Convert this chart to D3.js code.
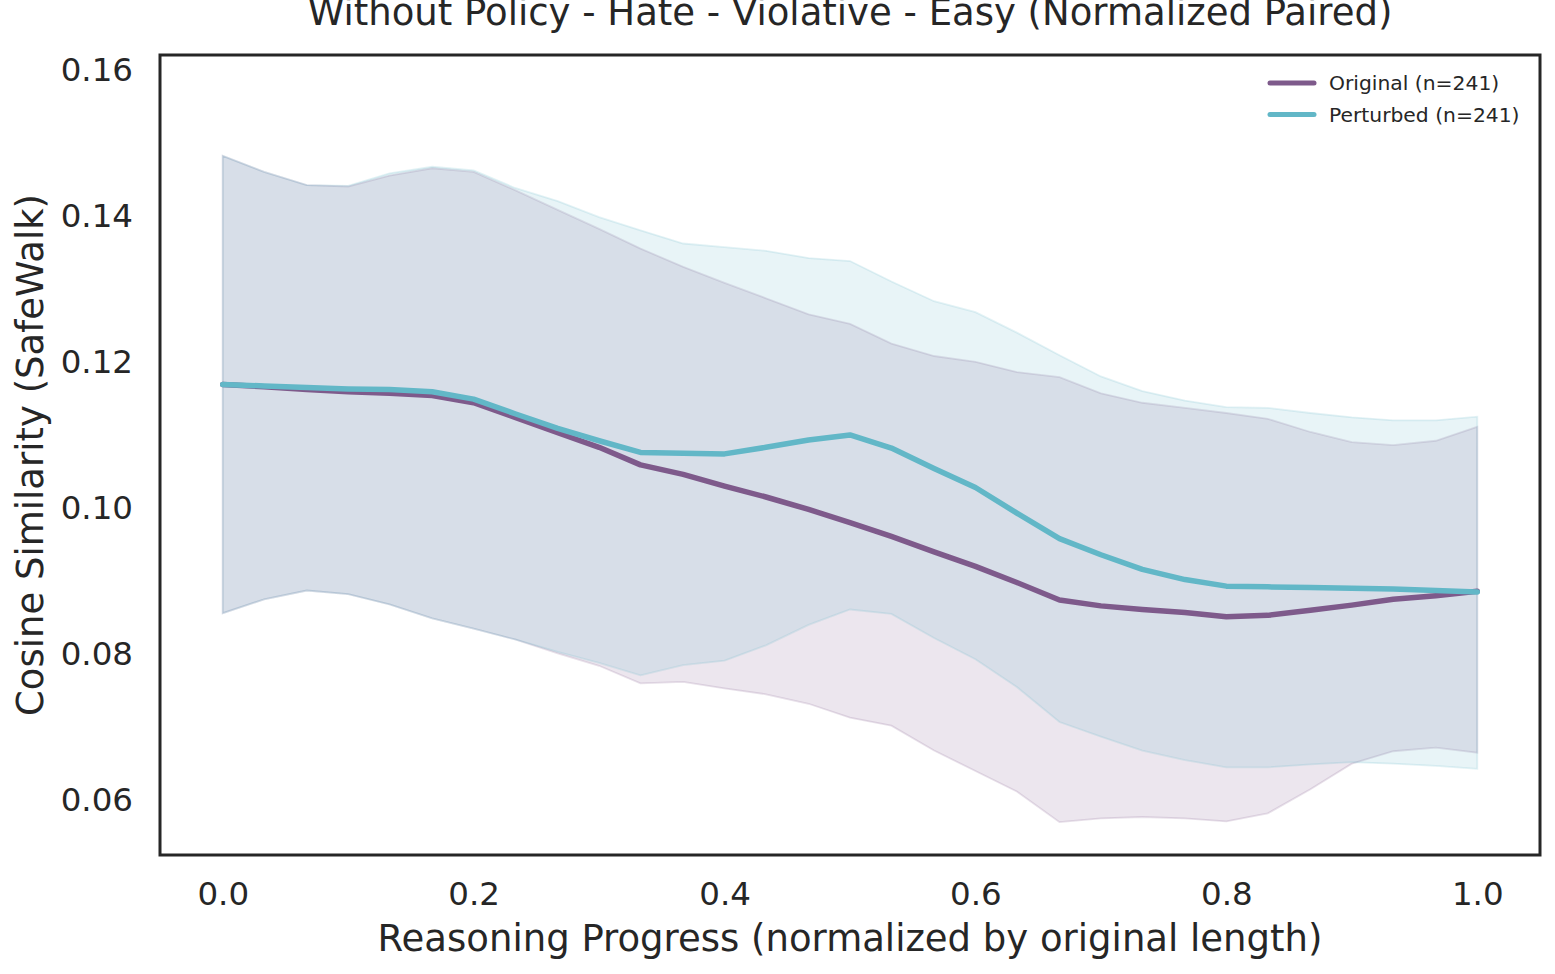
<!DOCTYPE html>
<html>
<head>
<meta charset="UTF-8">
<script src="https://d3js.org/d3.v7.min.js"></script>
<style>
  body { margin: 0; background: #fff; }
  svg text { font-family: "DejaVu Sans", sans-serif; fill: #262626; }
</style>
</head>
<body>
<svg id="grafico"></svg>
<script>
  // progress grid (fraction of original length)
  const progress = [0, 0.033, 0.067, 0.1, 0.133, 0.167, 0.2, 0.233, 0.267, 0.3,
    0.333, 0.367, 0.4, 0.433, 0.467, 0.5, 0.533, 0.567, 0.6, 0.633,
    0.667, 0.7, 0.733, 0.767, 0.8, 0.833, 0.867, 0.9, 0.933, 0.967, 1.0];

  const origMean = [0.1169, 0.1166, 0.1162, 0.1159, 0.1157, 0.1154, 0.1144, 0.1124, 0.1103, 0.1083,
    0.1059, 0.1046, 0.1030, 0.1015, 0.0998, 0.0980, 0.0961, 0.0940, 0.0920, 0.0898,
    0.0874, 0.0866, 0.0861, 0.0857, 0.0851, 0.0853, 0.0860, 0.0867, 0.0875, 0.0880, 0.0886];
  const origLo = [0.0856, 0.0875, 0.0887, 0.0882, 0.0868, 0.0849, 0.0835, 0.0820, 0.0801, 0.0784,
    0.0760, 0.0762, 0.0753, 0.0745, 0.0732, 0.0713, 0.0702, 0.0668, 0.0640, 0.0612,
    0.0570, 0.0575, 0.0577, 0.0575, 0.0571, 0.0582, 0.0615, 0.0650, 0.0667, 0.0672, 0.0665];
  const origHi = [0.1482, 0.1460, 0.1442, 0.1440, 0.1455, 0.1465, 0.1460, 0.1435, 0.1408, 0.1382,
    0.1355, 0.1330, 0.1308, 0.1287, 0.1265, 0.1252, 0.1225, 0.1208, 0.1200, 0.1186,
    0.1179, 0.1157, 0.1144, 0.1137, 0.1130, 0.1122, 0.1104, 0.1090, 0.1086, 0.1092, 0.1111];

  const pertMean = [0.1169, 0.1167, 0.1165, 0.1163, 0.1162, 0.1159, 0.1149, 0.1129, 0.1109, 0.1092,
    0.1076, 0.1075, 0.1074, 0.1083, 0.1093, 0.1100, 0.1082, 0.1054, 0.1028, 0.0993,
    0.0958, 0.0936, 0.0916, 0.0902, 0.0893, 0.0892, 0.0891, 0.0890, 0.0889, 0.0887, 0.0885];
  const pertLo = [0.0856, 0.0875, 0.0887, 0.0882, 0.0868, 0.0849, 0.0835, 0.0820, 0.0803, 0.0788,
    0.0771, 0.0785, 0.0791, 0.0812, 0.0840, 0.0861, 0.0855, 0.0822, 0.0793, 0.0755,
    0.0707, 0.0687, 0.0668, 0.0655, 0.0645, 0.0645, 0.0649, 0.0652, 0.0650, 0.0647, 0.0643];
  const pertHi = [0.1482, 0.1460, 0.1442, 0.1441, 0.1458, 0.1467, 0.1462, 0.1438, 0.1420, 0.1398,
    0.1380, 0.1362, 0.1357, 0.1352, 0.1342, 0.1338, 0.1310, 0.1283, 0.1268, 0.1240,
    0.1209, 0.1180, 0.1160, 0.1147, 0.1138, 0.1137, 0.1130, 0.1124, 0.1120, 0.1120, 0.1125];

  const xTicks = [0, 0.2, 0.4, 0.6, 0.8, 1.0];
  const yTicks = [0.06, 0.08, 0.10, 0.12, 0.14, 0.16];

  const series = [
    { name: "Original (n=241)", cor: "#7e5a8b", mean: origMean, lo: origLo, hi: origHi },
    { name: "Perturbed (n=241)", cor: "#62b7c7", mean: pertMean, lo: pertLo, hi: pertHi }
  ];

  const largura = 1555, altura = 974;
  const margem = { topo: 55, direita: 15, inferior: 119, esquerda: 160 };
  const w = largura - margem.esquerda - margem.direita;
  const h = altura - margem.topo - margem.inferior;

  const svg = d3.select("#grafico").attr("width", largura).attr("height", altura);
  const g = svg.append("g").attr("transform", `translate(${margem.esquerda},${margem.topo})`);

  const x = d3.scaleLinear().domain([-0.05, 1.05]).range([0, w]);
  const y = d3.scaleLinear().domain([0.0525, 0.162]).range([h, 0]);

  // bands
  series.forEach(s => {
    const area = d3.area()
      .x((d, i) => x(progress[i]))
      .y0((d, i) => y(s.lo[i]))
      .y1((d, i) => y(s.hi[i]));
    g.append("path")
      .datum(progress)
      .attr("d", area)
      .attr("fill", s.cor)
      .attr("fill-opacity", 0.15)
      .attr("stroke", s.cor)
      .attr("stroke-opacity", 0.18)
      .attr("stroke-width", 1.8);
  });

  // mean lines
  series.forEach(s => {
    const linha = d3.line()
      .x((d, i) => x(progress[i]))
      .y((d, i) => y(s.mean[i]));
    g.append("path")
      .datum(progress)
      .attr("d", linha)
      .attr("fill", "none")
      .attr("stroke", s.cor)
      .attr("stroke-width", 5.5)
      .attr("stroke-linejoin", "round")
      .attr("stroke-linecap", "round");
  });

  // axes (no tick marks, seaborn white style)
  const eixoX = g.append("g")
    .attr("transform", `translate(0,${h})`)
    .call(d3.axisBottom(x).tickValues(xTicks).tickFormat(d3.format(".1f")).tickSize(0).tickPadding(27));
  const eixoY = g.append("g")
    .call(d3.axisLeft(y).tickValues(yTicks).tickFormat(d3.format(".2f")).tickSize(0).tickPadding(27));
  [eixoX, eixoY].forEach(e => {
    e.select(".domain").remove();
    e.selectAll("text").style("font-size", "32.5px").attr("fill", "#262626")
      .style("font-family", "'DejaVu Sans', sans-serif");
  });

  // frame
  g.append("rect")
    .attr("x", 0).attr("y", 0).attr("width", w).attr("height", h)
    .attr("fill", "none").attr("stroke", "#262626").attr("stroke-width", 3);

  // labels
  svg.append("text")
    .attr("x", margem.esquerda + w / 2).attr("y", 951)
    .attr("text-anchor", "middle").style("font-size", "37px")
    .text("Reasoning Progress (normalized by original length)");

  svg.append("text")
    .attr("transform", `translate(43,${margem.topo + h / 2}) rotate(-90)`)
    .attr("text-anchor", "middle").style("font-size", "37px")
    .text("Cosine Similarity (SafeWalk)");

  svg.append("text")
    .attr("x", margem.esquerda + w / 2).attr("y", 25)
    .attr("text-anchor", "middle").style("font-size", "37px")
    .text("Without Policy - Hate - Violative - Easy (Normalized Paired)");

  // legend
  const legenda = svg.append("g").attr("transform", "translate(1270,83)");
  series.forEach((s, i) => {
    const item = legenda.append("g").attr("transform", `translate(0,${i * 31.5})`);
    item.append("line")
      .attr("x1", 0).attr("x2", 44).attr("y1", 0).attr("y2", 0)
      .attr("stroke", s.cor).attr("stroke-width", 5).attr("stroke-linecap", "round");
    item.append("text")
      .attr("x", 59).attr("y", 7).style("font-size", "20.3px")
      .text(s.name);
  });
</script>
</body>
</html>
